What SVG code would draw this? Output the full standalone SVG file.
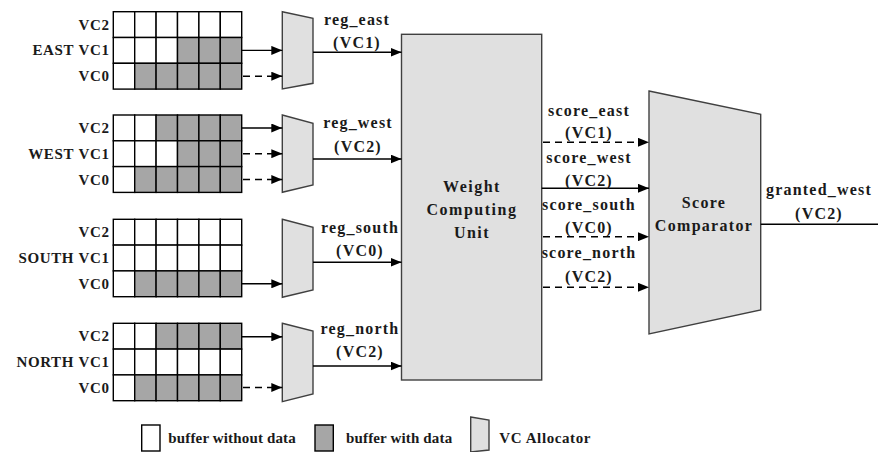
<svg xmlns="http://www.w3.org/2000/svg" width="878" height="452" viewBox="0 0 878 452">
<defs>
<marker id="ah" markerUnits="userSpaceOnUse" markerWidth="11" markerHeight="9" refX="11" refY="4.5" orient="auto">
<path d="M0,0 L11,4.5 L0,9 z" fill="#000"/>
</marker>
<style>
text{font-family:'Liberation Serif','Times New Roman',serif;font-weight:bold;fill:#1a1a1a;}
.lbl{font-size:15px;letter-spacing:0.6px;text-anchor:end;}
.sig{font-size:16px;letter-spacing:1.2px;text-anchor:middle;}
.big{font-size:16px;letter-spacing:1.5px;text-anchor:middle;}
.leg{font-size:15px;letter-spacing:0.15px;}
.w{fill:#fff;stroke:#000;stroke-width:1.4;}
.g{fill:#a6a6a6;stroke:#000;stroke-width:1.4;}
.mux{fill:#e0e0e0;stroke:#404040;stroke-width:1.4;}
.ln{stroke:#000;stroke-width:1.4;fill:none;}
.sol{stroke:#000;stroke-width:1.4;fill:none;marker-end:url(#ah);}
.dsh{stroke:#000;stroke-width:1.4;fill:none;stroke-dasharray:7,5;marker-end:url(#ah);}
</style>
</defs>
<rect width="878" height="452" fill="#fff"/>

<g id="buf_east">
<rect class="w" x="113.3" y="11.7" width="21.4" height="25.8"/><rect class="w" x="134.7" y="11.7" width="21.4" height="25.8"/><rect class="w" x="156.1" y="11.7" width="21.4" height="25.8"/><rect class="w" x="177.5" y="11.7" width="21.4" height="25.8"/><rect class="w" x="198.9" y="11.7" width="21.4" height="25.8"/><rect class="w" x="220.3" y="11.7" width="21.4" height="25.8"/>
<rect class="w" x="113.3" y="37.5" width="21.4" height="25.8"/><rect class="w" x="134.7" y="37.5" width="21.4" height="25.8"/><rect class="w" x="156.1" y="37.5" width="21.4" height="25.8"/><rect class="g" x="177.5" y="37.5" width="21.4" height="25.8"/><rect class="g" x="198.9" y="37.5" width="21.4" height="25.8"/><rect class="g" x="220.3" y="37.5" width="21.4" height="25.8"/>
<rect class="w" x="113.3" y="63.3" width="21.4" height="25.8"/><rect class="g" x="134.7" y="63.3" width="21.4" height="25.8"/><rect class="g" x="156.1" y="63.3" width="21.4" height="25.8"/><rect class="g" x="177.5" y="63.3" width="21.4" height="25.8"/><rect class="g" x="198.9" y="63.3" width="21.4" height="25.8"/><rect class="g" x="220.3" y="63.3" width="21.4" height="25.8"/>
<text class="lbl" x="109.5" y="29.6">VC2</text>
<text class="lbl" x="109.5" y="55.4">VC1</text>
<text class="lbl" x="109.5" y="81.2">VC0</text>
<text class="lbl" x="74" y="55.4">EAST</text>
</g>

<g id="buf_west">
<rect class="w" x="113.3" y="115" width="21.4" height="25.8"/><rect class="w" x="134.7" y="115" width="21.4" height="25.8"/><rect class="g" x="156.1" y="115" width="21.4" height="25.8"/><rect class="g" x="177.5" y="115" width="21.4" height="25.8"/><rect class="g" x="198.9" y="115" width="21.4" height="25.8"/><rect class="g" x="220.3" y="115" width="21.4" height="25.8"/>
<rect class="w" x="113.3" y="140.8" width="21.4" height="25.8"/><rect class="w" x="134.7" y="140.8" width="21.4" height="25.8"/><rect class="w" x="156.1" y="140.8" width="21.4" height="25.8"/><rect class="g" x="177.5" y="140.8" width="21.4" height="25.8"/><rect class="g" x="198.9" y="140.8" width="21.4" height="25.8"/><rect class="g" x="220.3" y="140.8" width="21.4" height="25.8"/>
<rect class="w" x="113.3" y="166.6" width="21.4" height="25.8"/><rect class="g" x="134.7" y="166.6" width="21.4" height="25.8"/><rect class="g" x="156.1" y="166.6" width="21.4" height="25.8"/><rect class="g" x="177.5" y="166.6" width="21.4" height="25.8"/><rect class="g" x="198.9" y="166.6" width="21.4" height="25.8"/><rect class="g" x="220.3" y="166.6" width="21.4" height="25.8"/>
<text class="lbl" x="109.5" y="132.9">VC2</text>
<text class="lbl" x="109.5" y="158.7">VC1</text>
<text class="lbl" x="109.5" y="184.5">VC0</text>
<text class="lbl" x="74" y="158.7">WEST</text>
</g>

<g id="buf_south">
<rect class="w" x="113.3" y="219.3" width="21.4" height="25.8"/><rect class="w" x="134.7" y="219.3" width="21.4" height="25.8"/><rect class="w" x="156.1" y="219.3" width="21.4" height="25.8"/><rect class="w" x="177.5" y="219.3" width="21.4" height="25.8"/><rect class="w" x="198.9" y="219.3" width="21.4" height="25.8"/><rect class="w" x="220.3" y="219.3" width="21.4" height="25.8"/>
<rect class="w" x="113.3" y="245.1" width="21.4" height="25.8"/><rect class="w" x="134.7" y="245.1" width="21.4" height="25.8"/><rect class="w" x="156.1" y="245.1" width="21.4" height="25.8"/><rect class="w" x="177.5" y="245.1" width="21.4" height="25.8"/><rect class="w" x="198.9" y="245.1" width="21.4" height="25.8"/><rect class="w" x="220.3" y="245.1" width="21.4" height="25.8"/>
<rect class="w" x="113.3" y="270.9" width="21.4" height="25.8"/><rect class="g" x="134.7" y="270.9" width="21.4" height="25.8"/><rect class="g" x="156.1" y="270.9" width="21.4" height="25.8"/><rect class="g" x="177.5" y="270.9" width="21.4" height="25.8"/><rect class="g" x="198.9" y="270.9" width="21.4" height="25.8"/><rect class="g" x="220.3" y="270.9" width="21.4" height="25.8"/>
<text class="lbl" x="109.5" y="237.2">VC2</text>
<text class="lbl" x="109.5" y="263">VC1</text>
<text class="lbl" x="109.5" y="288.8">VC0</text>
<text class="lbl" x="74" y="263">SOUTH</text>
</g>

<g id="buf_north">
<rect class="w" x="113.3" y="323.3" width="21.4" height="25.8"/><rect class="w" x="134.7" y="323.3" width="21.4" height="25.8"/><rect class="g" x="156.1" y="323.3" width="21.4" height="25.8"/><rect class="g" x="177.5" y="323.3" width="21.4" height="25.8"/><rect class="g" x="198.9" y="323.3" width="21.4" height="25.8"/><rect class="g" x="220.3" y="323.3" width="21.4" height="25.8"/>
<rect class="w" x="113.3" y="349.1" width="21.4" height="25.8"/><rect class="w" x="134.7" y="349.1" width="21.4" height="25.8"/><rect class="w" x="156.1" y="349.1" width="21.4" height="25.8"/><rect class="w" x="177.5" y="349.1" width="21.4" height="25.8"/><rect class="w" x="198.9" y="349.1" width="21.4" height="25.8"/><rect class="w" x="220.3" y="349.1" width="21.4" height="25.8"/>
<rect class="w" x="113.3" y="374.9" width="21.4" height="25.8"/><rect class="g" x="134.7" y="374.9" width="21.4" height="25.8"/><rect class="g" x="156.1" y="374.9" width="21.4" height="25.8"/><rect class="g" x="177.5" y="374.9" width="21.4" height="25.8"/><rect class="g" x="198.9" y="374.9" width="21.4" height="25.8"/><rect class="g" x="220.3" y="374.9" width="21.4" height="25.8"/>
<text class="lbl" x="109.5" y="341.2">VC2</text>
<text class="lbl" x="109.5" y="367">VC1</text>
<text class="lbl" x="109.5" y="392.8">VC0</text>
<text class="lbl" x="74" y="367">NORTH</text>
</g>

<g id="mux_east"><polygon class="mux" points="282.3,11.7 313,18.3 313,83.3 282.3,89"/></g>
<g id="mux_west"><polygon class="mux" points="282.3,115 313,123.3 313,185 282.3,192.3"/></g>
<g id="mux_south"><polygon class="mux" points="282.3,219.3 313,227.3 313,290 282.3,297.3"/></g>
<g id="mux_north"><polygon class="mux" points="282.3,323.3 313,331 313,394 282.3,401.7"/></g>

<g id="wcu">
<rect x="401.5" y="34.3" width="140.2" height="345.7" fill="#e0e0e0" stroke="#404040" stroke-width="1.4"/>
<text class="big" x="472" y="192">Weight</text>
<text class="big" x="472" y="215">Computing</text>
<text class="big" x="472" y="238">Unit</text>
</g>

<g id="comparator">
<polygon class="mux" points="649,91 760.7,114.3 760.7,310 649,334"/>
<text class="big" x="704" y="208" style="letter-spacing:1.3px">Score</text>
<text class="big" x="704" y="231" style="letter-spacing:1.3px">Comparator</text>
</g>

<g id="connectors">
<line class="sol" x1="241.7" y1="50.4" x2="282.3" y2="50.4"/>
<line class="dsh" x1="243" y1="76.2" x2="282.3" y2="76.2"/>
<line class="sol" x1="241.7" y1="128" x2="282.3" y2="128"/>
<line class="dsh" x1="243" y1="153.7" x2="282.3" y2="153.7"/>
<line class="dsh" x1="243" y1="179.5" x2="282.3" y2="179.5"/>
<line class="sol" x1="241.7" y1="283.8" x2="282.3" y2="283.8"/>
<line class="sol" x1="241.7" y1="336.8" x2="282.3" y2="336.8"/>
<line class="dsh" x1="243" y1="387.5" x2="282.3" y2="387.5"/>

<line class="sol" x1="313" y1="52.3" x2="401.5" y2="52.3"/>
<line class="sol" x1="313" y1="159" x2="401.5" y2="159"/>
<line class="sol" x1="313" y1="262.3" x2="401.5" y2="262.3"/>
<line class="sol" x1="313" y1="366" x2="401.5" y2="366"/>

<line class="dsh" x1="543" y1="142.3" x2="649" y2="142.3"/>
<line class="sol" x1="541.7" y1="188.3" x2="649" y2="188.3"/>
<line class="dsh" x1="543" y1="236.7" x2="649" y2="236.7"/>
<line class="dsh" x1="543" y1="287.3" x2="649" y2="287.3"/>

<line class="ln" x1="760.7" y1="224.3" x2="878" y2="224.3"/>

<text class="sig" x="357" y="25">reg_east</text>
<text class="sig" x="357" y="48">(VC1)</text>
<text class="sig" x="358" y="128">reg_west</text>
<text class="sig" x="358" y="151.5">(VC2)</text>
<text class="sig" x="360" y="233">reg_south</text>
<text class="sig" x="360" y="255.5">(VC0)</text>
<text class="sig" x="360" y="334">reg_north</text>
<text class="sig" x="360" y="357">(VC2)</text>

<text class="sig" x="589" y="116">score_east</text>
<text class="sig" x="589" y="138">(VC1)</text>
<text class="sig" x="589" y="163">score_west</text>
<text class="sig" x="589" y="185.5">(VC2)</text>
<text class="sig" x="589" y="210">score_south</text>
<text class="sig" x="589" y="233">(VC0)</text>
<text class="sig" x="589" y="258">score_north</text>
<text class="sig" x="589" y="281.5">(VC2)</text>

<text class="sig" x="819" y="195">granted_west</text>
<text class="sig" x="819" y="219">(VC2)</text>
</g>

<g id="legend">
<rect class="w" x="141.7" y="425" width="18.3" height="26"/>
<text class="leg" x="168.3" y="443.3">buffer without data</text>
<rect class="g" x="315" y="425" width="18.3" height="26"/>
<text class="leg" x="346" y="443.3">buffer with data</text>
<polygon class="mux" points="470.7,417 489,420 489,450 470.7,452"/>
<text class="leg" x="499.3" y="443.3" style="letter-spacing:0.6px">VC Allocator</text>
</g>
</svg>
